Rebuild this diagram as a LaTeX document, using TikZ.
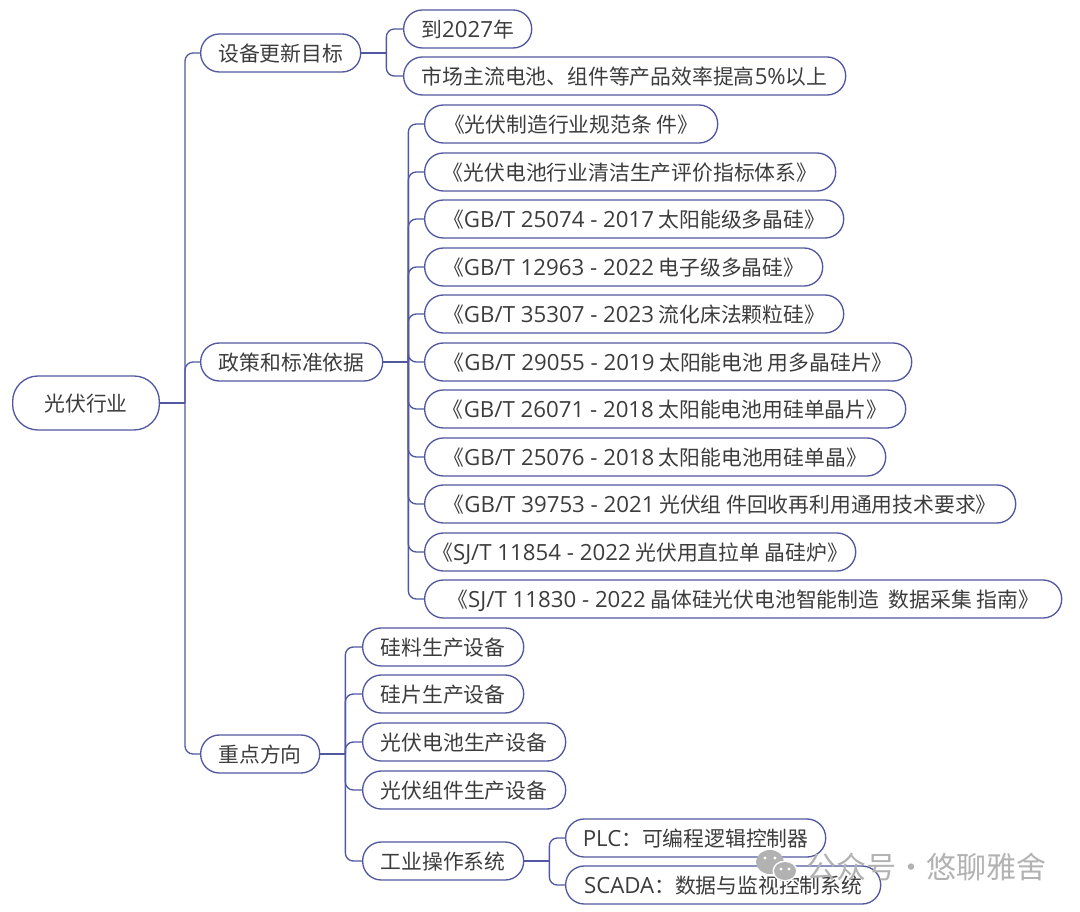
\documentclass[tikz,border=0pt]{standalone}
\usepackage{fontspec}
\setmainfont{Open Sans}
\newfontfamily\cjkfont{Noto Sans CJK SC}
\newfontfamily\latfont[Scale=1.07]{Open Sans}
\usetikzlibrary{calc}
\definecolor{linecol}{RGB}{82,88,160}
\definecolor{textcol}{RGB}{60,60,60}
\definecolor{markcol}{RGB}{178,178,178}
\tikzset{
    topic/.style={draw=linecol, line width=1pt, rounded corners=14pt, anchor=west, minimum height=28.5pt, inner xsep=0pt, text height=14.4pt, text depth=1.4pt, text=textcol, font=\fontsize{15.6pt}{18pt}\cjkfont},
    link/.style={draw=linecol, line width=1pt},
    branch/.style={link, rounded corners=6pt},
}
\newcommand{\lat}[1]{{\latfont #1}}
\begin{document}
\begin{tikzpicture}[x=0.75pt, y=-0.75pt]
    \useasboundingbox (1,0) rectangle (1081,912);
    % Nodes
    \node [topic, minimum width=110pt, rounded corners=19pt, minimum height=40.5pt] (hangye) at (13,403) {光伏行业};
    \node [topic, minimum width=120pt] (mubiao) at (201,53) {设备更新目标};
    \node [topic, minimum width=136.5pt] (yiju) at (201,362) {政策和标准依据};
    \node [topic, minimum width=89.25pt] (fangxiang) at (201,754) {重点方向};

    \node [topic, minimum width=96pt] (m1) at (404,29) {到\lat{2027}年};
    \node [topic, minimum width=331.5pt] (m2) at (404,76) {市场主流电池、组件等产品效率提高\lat{5\%}以上};

    \node [topic, minimum width=219.75pt] (y1) at (425,124) {《光伏制造行业规范条 件》};
    \node [topic, minimum width=308.25pt] (y2) at (425,172) {《光伏电池行业清洁生产评价指标体系》};
    \node [topic, minimum width=314.25pt] (y3) at (425,219) {《\lat{GB/T 25074 - 2017} 太阳能级多晶硅》};
    \node [topic, minimum width=298.5pt] (y4) at (425,267) {《\lat{GB/T 12963 - 2022} 电子级多晶硅》};
    \node [topic, minimum width=314.25pt] (y5) at (425,314) {《\lat{GB/T 35307 - 2023} 流化床法颗粒硅》};
    \node [topic, minimum width=365.25pt] (y6) at (425,362) {《\lat{GB/T 29055 - 2019} 太阳能电池 用多晶硅片》};
    \node [topic, minimum width=360.75pt] (y7) at (425,409) {《\lat{GB/T 26071 - 2018} 太阳能电池用硅单晶片》};
    \node [topic, minimum width=345.75pt] (y8) at (425,457) {《\lat{GB/T 25076 - 2018} 太阳能电池用硅单晶》};
    \node [topic, minimum width=443.25pt] (y9) at (425,504) {《\lat{GB/T 39753 - 2021} 光伏组 件回收再利用通用技术要求》};
    \node [topic, minimum width=323.25pt] (y10) at (425,552) {《\lat{SJ/T 11854 - 2022} 光伏用直拉单 晶硅炉》};
    \node [topic, minimum width=477.75pt] (y11) at (425,599) {《\lat{SJ/T 11830 - 2022} 晶体硅光伏电池智能制造 \ 数据采集 指南》};

    \node [topic, minimum width=120.75pt] (f1) at (363,647) {硅料生产设备};
    \node [topic, minimum width=120.75pt] (f2) at (363,694) {硅片生产设备};
    \node [topic, minimum width=152.25pt] (f3) at (363,742) {光伏电池生产设备};
    \node [topic, minimum width=152.25pt] (f4) at (363,790) {光伏组件生产设备};
    \node [topic, minimum width=120.75pt] (f5) at (363,861) {工业操作系统};

    \node [topic, minimum width=195pt] (g1) at (566,838) {\lat{PLC}：可编程逻辑控制器};
    \node [topic, minimum width=236.25pt] (g2) at (566,885) {\lat{SCADA}：数据与监视控制系统};

    % Junctions
    \coordinate (hangye-j) at ($(hangye.east)+(25,0)$);
    \coordinate (mubiao-j) at ($(mubiao.east)+(25,0)$);
    \coordinate (yiju-j) at ($(yiju.east)+(25,0)$);
    \coordinate (fangxiang-j) at ($(fangxiang.east)+(25,0)$);
    \coordinate (f5-j) at ($(f5.east)+(25,0)$);

    % Arrows
    \draw [link] (hangye.east) -- (hangye-j);
    \draw [link] (mubiao.east) -- (mubiao-j);
    \draw [link] (yiju.east) -- (yiju-j);
    \draw [link] (fangxiang.east) -- (fangxiang-j);
    \draw [link] (f5.east) -- (f5-j);
    \foreach \n in {mubiao, yiju, fangxiang}
        \draw [branch] (hangye-j) |- (\n.west);
    \foreach \n in {m1, m2}
        \draw [branch] (mubiao-j) |- (\n.west);
    \foreach \n in {y1, y2, y3, y4, y5, y6, y7, y8, y9, y10, y11}
        \draw [branch] (yiju-j) |- (\n.west);
    \foreach \n in {f1, f2, f3, f4, f5}
        \draw [branch] (fangxiang-j) |- (\n.west);
    \foreach \n in {g1, g2}
        \draw [branch] (f5-j) |- (\n.west);

    % Watermark
    \fill [markcol] (771,862) ellipse (14 and 12);
    \fill [white] (786,871) ellipse (12.5 and 10.5);
    \fill [markcol] (786,871) ellipse (11 and 9);
    \foreach \x/\y in {766/858, 776/858, 782/869, 790/869}
        \fill [white] (\x,\y) circle (1.6);
    \node [anchor=west, inner sep=0pt, text=markcol, font=\fontsize{22.5pt}{26pt}\cjkfont] (mark) at (807,867) {公众号·悠聊雅舍};
\end{tikzpicture}
\end{document}
